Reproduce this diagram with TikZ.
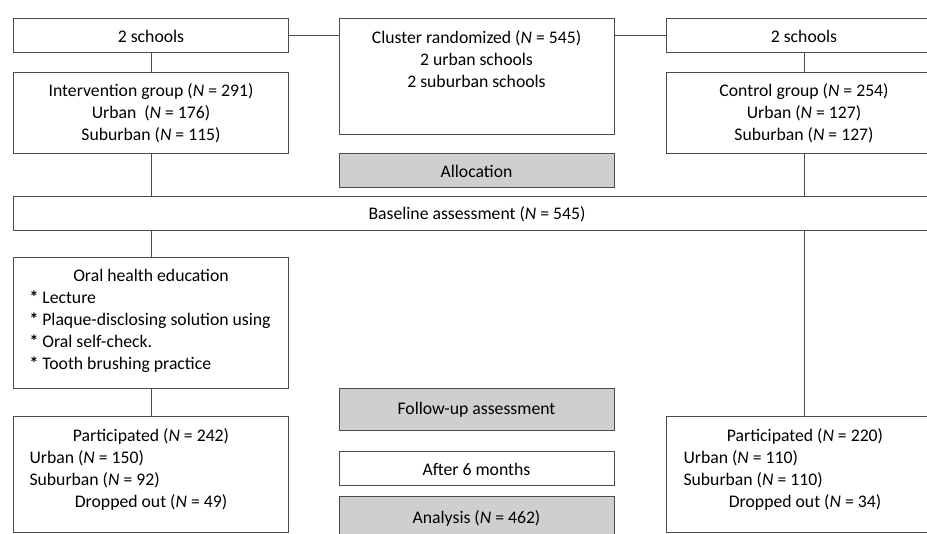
\documentclass[tikz,border=0pt]{standalone}
\usepackage{fontspec}
\setmainfont{Carlito}
\definecolor{ln}{RGB}{75,75,75}
\definecolor{gfill}{RGB}{208,206,206}
\newcommand{\cenline}[1]{\makebox[243pt][c]{#1}}
\newcommand{\bul}{\textbf{*}}
\begin{document}
\begin{tikzpicture}[x=1pt,y=-1pt,
  box/.style={draw=ln,line width=1pt,rectangle,inner sep=0pt,minimum width=275pt,align=center,font=\fontsize{17.7}{22}\selectfont},
  gbox/.style={box,fill=gfill},
  txt/.style={inner sep=0pt,align=left,font=\fontsize{17.7}{22}\selectfont},
  conn/.style={draw=ln,line width=1pt}]
\useasboundingbox (0,0) rectangle (927,534);
\clip (0,0) rectangle (927,534);
% top row
\node[box,minimum height=34pt] (s1) at (151,36) {2 schools};
\node[box,minimum height=116pt] (clu) at (476.5,77) {};
\node[txt,align=center] (clut) at (476.5,59.5) {Cluster randomized (\textit{N} = 545)\\2 urban schools\\2 suburban schools};
\node[box,minimum height=34pt] (s2) at (804,36) {2 schools};
% groups
\node[box,minimum height=81pt] (int) at (151,113.5) {Intervention group (\textit{N} = 291)\\Urban\ \ (\textit{N} = 176)\\Suburban (\textit{N} = 115)};
\node[box,minimum height=81pt] (ctl) at (804,113.5) {Control group (\textit{N} = 254)\\Urban (\textit{N} = 127)\\Suburban (\textit{N} = 127)};
\node[gbox,minimum height=34pt] (alloc) at (476.5,171) {Allocation};
% baseline
\node[box,minimum height=34pt,minimum width=928pt] (base) at (477,214) {Baseline assessment (\textit{N} = 545)};
% intervention
\node[box,minimum height=131pt] (oral) at (151,323.5) {};
\node[txt] (oralt) at (151,321) {\cenline{Oral health education}\\\bul{} Lecture\\\bul{} Plaque-disclosing solution using\\\bul{} Oral self-check.\\\bul{} Tooth brushing practice};
\node[box,minimum height=116pt] (p1) at (151,475) {};
\node[txt] (p1t) at (151,469.5) {\cenline{Participated (\textit{N} = 242)}\\Urban (\textit{N} = 150)\\Suburban (\textit{N} = 92)\\\cenline{Dropped out (\textit{N} = 49)}};
\node[box,minimum height=116pt] (p2) at (804,475) {};
\node[txt] (p2t) at (805,469.5) {\cenline{Participated (\textit{N} = 220)}\\Urban (\textit{N} = 110)\\Suburban (\textit{N} = 110)\\\cenline{Dropped out (\textit{N} = 34)}};
% middle column
\node[gbox,minimum height=42pt] (fup) at (476.5,410) {Follow-up assessment};
\node[box,minimum height=34pt] (after) at (476.5,469) {After 6 months};
\node[gbox,minimum height=42pt] (anal) at (476.5,518) {Analysis (\textit{N} = 462)};
% connectors
\draw[conn] (s1.east) -- (s1.east -| clu.west);
\draw[conn] (s2.west) -- (s2.west -| clu.east);
\draw[conn] (s1) -- (int);
\draw[conn] (s2) -- (ctl);
\draw[conn] (int.south) -- (int.south |- base.north);
\draw[conn] (ctl.south) -- (ctl.south |- base.north);
\draw[conn] (oral.north |- base.south) -- (oral.north);
\draw[conn] (oral) -- (p1);
\draw[conn] (p2.north |- base.south) -- (p2.north);
\end{tikzpicture}
\end{document}
